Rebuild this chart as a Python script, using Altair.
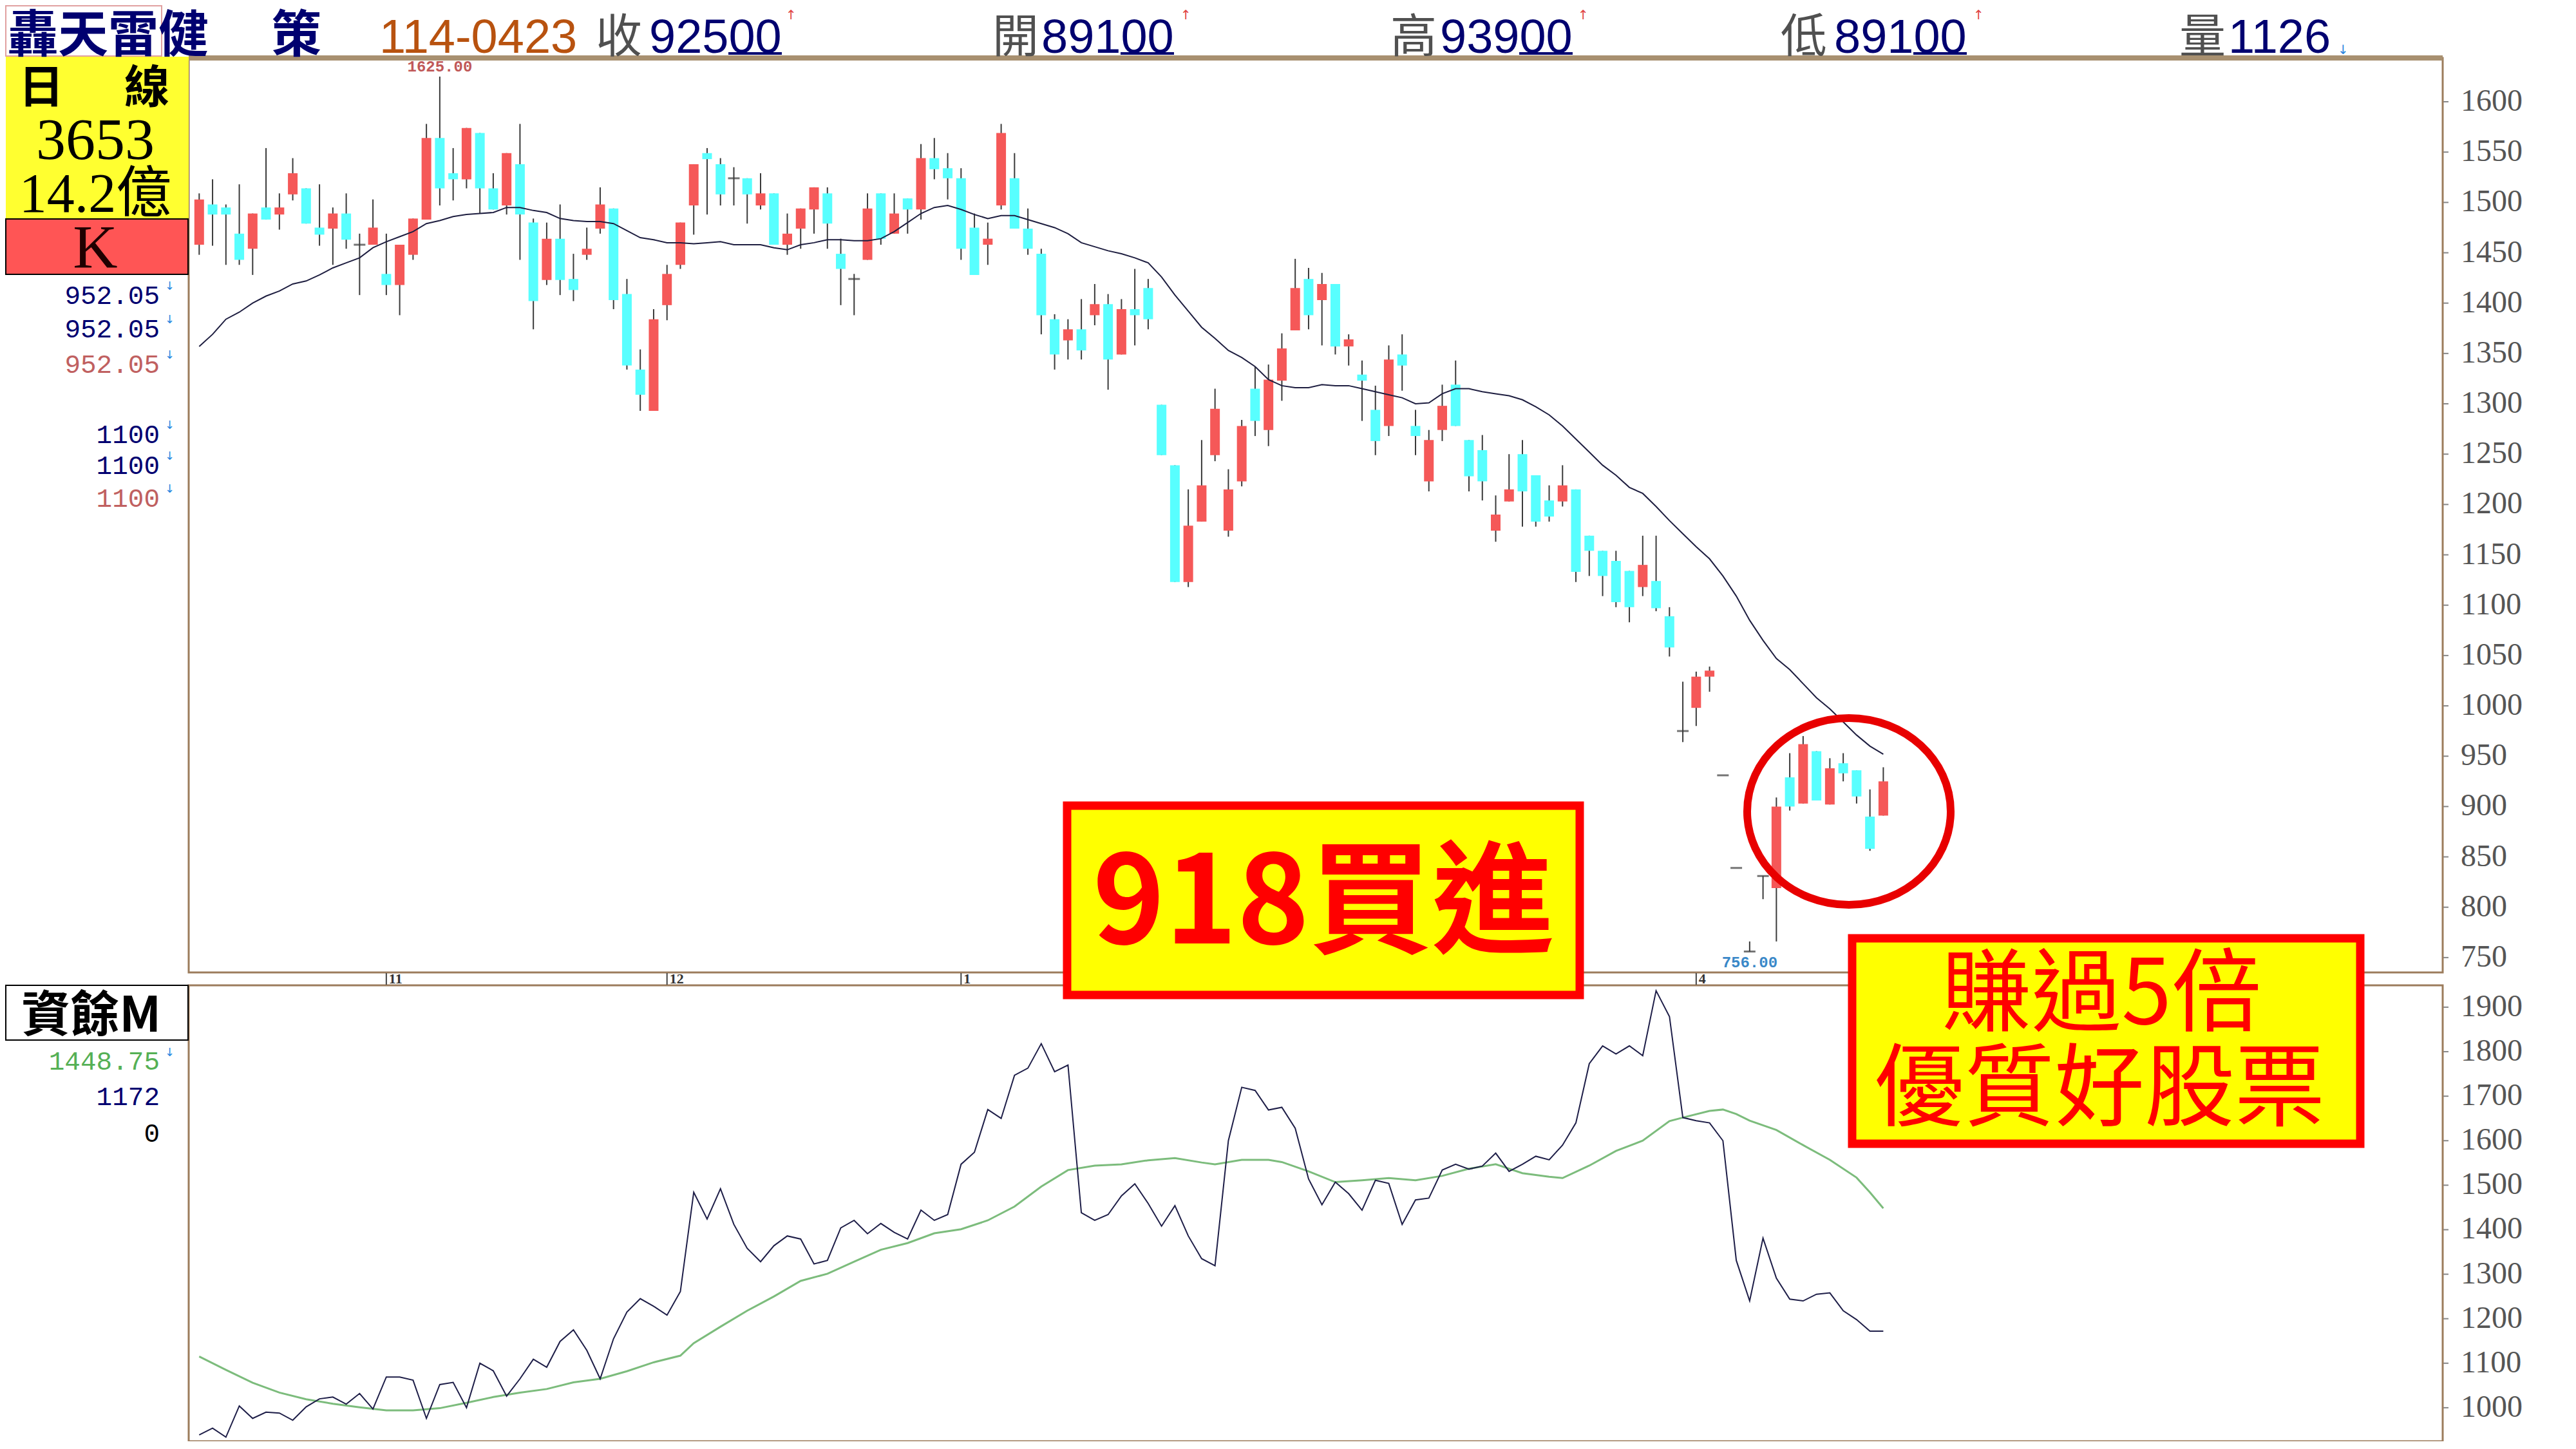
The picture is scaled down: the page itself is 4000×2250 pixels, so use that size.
import altair as alt
import pandas as pd

# ---------------- data ----------------
opens = [1458,1498,1495,1469,1454,1495,1488,1508,1514,1475,1474,1489,1458,1458,1429,1418,1448,1483,1564,1529,
         1523,1569,1514,1497,1538,1480,1423,1464,1424,1448,1474,1494,1409,1334,1293,1398,1438,1497,1549,1538,
         1524,1524,1497,1509,1458,1474,1493,1509,1449,1424,1443,1509,1469,1504,1493,1544,1534,1524,1475,1458,
         1497,1524,1474,1449,1384,1363,1374,1388,1399,1349,1394,1415,1299,1239,1123,1183,1249,1174,1223,1315,
         1274,1323,1373,1424,1403,1419,1357,1329,1294,1278,1349,1278,1223,1274,1319,1264,1254,1174,1203,1250,
         1229,1204,1203,1215,1169,1154,1144,1134,1118,1124,1089,975,998,1029,931,839,756,831,819,929,
         903,955,902,943,936,890,891]
highs = [1509,1523,1498,1518,1489,1554,1509,1544,1514,1518,1495,1509,1469,1503,1469,1458,1484,1578,1625,1554,
         1574,1569,1529,1549,1578,1484,1480,1498,1449,1475,1515,1494,1424,1354,1394,1438,1480,1538,1554,1544,
         1535,1524,1529,1509,1489,1494,1515,1515,1464,1429,1509,1509,1509,1504,1558,1564,1549,1534,1489,1480,
         1578,1549,1494,1454,1389,1384,1404,1419,1409,1404,1434,1424,1299,1239,1215,1264,1315,1235,1284,1337,
         1339,1370,1444,1435,1430,1419,1369,1343,1318,1358,1369,1294,1274,1319,1343,1264,1269,1209,1250,1264,
         1229,1219,1239,1215,1169,1154,1154,1134,1169,1169,1098,1024,1034,1039,931,839,766,831,909,953,
         970,955,948,953,936,917,939]
lows = [1448,1457,1438,1438,1428,1483,1473,1502,1479,1457,1438,1454,1408,1458,1408,1388,1443,1483,1497,1502,
        1514,1489,1493,1488,1443,1374,1418,1408,1402,1443,1469,1394,1334,1293,1293,1383,1434,1468,1488,1497,
        1497,1479,1493,1458,1448,1454,1469,1454,1398,1388,1443,1458,1469,1469,1483,1523,1503,1443,1428,1438,
        1493,1474,1448,1369,1334,1344,1344,1378,1314,1349,1358,1374,1249,1123,1118,1183,1243,1168,1218,1268,
        1258,1303,1373,1374,1358,1349,1338,1283,1249,1268,1313,1249,1213,1263,1278,1213,1204,1163,1203,1178,
        1178,1183,1198,1123,1129,1109,1098,1083,1109,1094,1049,964,980,1014,931,839,756,808,766,896,
        903,906,902,925,903,856,891]
closes = [1503,1488,1488,1443,1489,1483,1495,1529,1479,1468,1489,1463,1458,1475,1418,1458,1484,1564,1514,1523,
          1574,1514,1493,1549,1488,1402,1464,1423,1413,1454,1498,1403,1338,1309,1384,1429,1480,1538,1543,1508,
          1524,1508,1509,1458,1469,1494,1515,1479,1434,1424,1494,1464,1489,1493,1544,1533,1524,1454,1428,1464,
          1569,1474,1454,1388,1349,1374,1353,1399,1344,1394,1388,1384,1249,1123,1179,1219,1295,1215,1278,1283,
          1324,1355,1415,1388,1419,1357,1364,1323,1263,1344,1338,1268,1264,1298,1278,1228,1223,1190,1215,1213,
          1183,1188,1219,1133,1154,1129,1103,1098,1140,1097,1058,975,1029,1035,931,839,756,831,900,900,
          962,906,938,933,910,858,925]
ma_line = [1357,1369,1384,1391,1400,1407,1412,1419,1422,1428,1435,1440,1445,1455,1461,1466,1471,1479,1482,1486,
           1488,1489,1490,1495,1495,1492,1490,1484,1482,1481,1481,1479,1472,1465,1463,1460,1460,1459,1460,1461,
           1458,1458,1458,1455,1453,1458,1460,1463,1463,1462,1462,1464,1471,1480,1489,1495,1497,1493,1488,1484,
           1487,1487,1483,1479,1475,1469,1460,1456,1452,1449,1445,1440,1426,1408,1392,1376,1365,1353,1346,1337,
           1324,1318,1316,1316,1319,1318,1318,1315,1312,1309,1306,1300,1301,1310,1315,1315,1312,1310,1308,1304,
           1297,1289,1278,1265,1252,1239,1229,1217,1211,1198,1184,1171,1158,1146,1129,1109,1085,1065,1047,1036,
           1022,1008,997,984,971,960,952]
margin_bal = [939,954,934,1004,976,990,988,972,1002,1020,1024,1008,1032,997,1069,1069,1062,976,1052,1057,
              1000,1100,1083,1026,1065,1109,1091,1149,1175,1129,1065,1155,1215,1245,1228,1208,1261,1484,1424,1492,
              1412,1358,1328,1364,1386,1379,1323,1331,1404,1421,1391,1414,1394,1379,1444,1421,1434,1547,1574,1670,
              1650,1747,1763,1818,1755,1770,1438,1421,1434,1476,1503,1459,1408,1454,1386,1335,1319,1600,1720,1713,
              1669,1675,1628,1514,1456,1507,1481,1444,1511,1504,1412,1467,1471,1534,1547,1536,1543,1572,1531,1547,
              1565,1557,1590,1640,1773,1813,1795,1813,1791,1937,1879,1652,1645,1640,1600,1331,1240,1381,1291,1244,
              1240,1255,1258,1218,1198,1172,1172]
margin_ma_idx = [0,2,4,6,8,10,12,14,16,18,20,22,24,26,28,30,32,34,36,37,39,41,43,45,47,49,51,53,55,57,59,61,63,65,
                 67,69,71,73,75,76,78,80,81,83,85,87,89,91,93,95,97,99,101,102,104,106,108,110,111,113,114,115,116,
                 118,120,122,124,125,126]
margin_ma = [1115,1085,1056,1034,1019,1009,1001,994,994,999,1011,1024,1034,1042,1057,1065,1082,1102,1117,1145,
             1182,1218,1250,1285,1301,1328,1355,1370,1392,1401,1421,1452,1497,1534,1544,1547,1556,1561,1551,1547,
             1557,1557,1552,1531,1507,1511,1516,1511,1521,1537,1547,1527,1519,1516,1544,1577,1600,1644,1652,1667,
             1670,1660,1645,1624,1590,1557,1517,1484,1448]
price_ticks = list(range(750, 1601, 50))
margin_ticks = list(range(1000, 1901, 100))
month_labels = ["11", "12", "1", "4"]
month_start = [14, 35, 57, 112]

# ---------------- tables ----------------
idx = list(range(len(opens)))
candles = pd.DataFrame({"i": idx, "open": opens, "high": highs, "low": lows, "close": closes})
ma_df = pd.DataFrame({"i": idx, "v": ma_line})
bal_df = pd.DataFrame({"i": idx, "v": margin_bal})
bal_ma_df = pd.DataFrame({"i": margin_ma_idx, "v": margin_ma})
pt_df = pd.DataFrame({"v": price_ticks, "label": [str(t) for t in price_ticks]})
mt_df = pd.DataFrame({"v": margin_ticks, "label": [str(t) for t in margin_ticks]})
month_df = pd.DataFrame({"m": month_start, "label": month_labels})
ONE = pd.DataFrame({"k": [0]})

O = 8  # page margin; reference pixel -> chart pixel
XS = alt.Scale(domain=[0, 126], range=[304.3 - O, 2929.4 - O], nice=False, zero=False)
YU = alt.Scale(domain=[736.5, 1643.5], range=[1508 - O, 90 - O], nice=False, zero=False)
YL = alt.Scale(domain=[914.5, 1952], range=[2245 - O, 1528 - O], nice=False, zero=False)

CJK = "Noto Sans CJK TC"
SERIF = "Liberation Serif"
MONO = "Liberation Mono"
SANS = "Liberation Sans"
RED = "#f55858"
CYAN = "#58ffff"
BROWN = "#9c7c5c"
NAVY = "#000070"


def T(s, x, y, size, color, font=CJK, weight="normal", align="left", baseline="alphabetic"):
    return alt.Chart(ONE).mark_text(text=s, fontSize=size, color=color, font=font, fontWeight=weight,
                                    align=align, baseline=baseline).encode(
        x=alt.value(x - O), y=alt.value(y - O))


def R(x1, y1, x2, y2, fill=None, stroke=None, sw=0):
    kw = {}
    if fill:
        kw["fill"] = fill
    else:
        kw["fillOpacity"] = 0
    if stroke:
        kw["stroke"] = stroke
        kw["strokeWidth"] = sw
    return alt.Chart(ONE).mark_rect(**kw).encode(
        x=alt.value(x1 - O), x2=alt.value(x2 - O), y=alt.value(y1 - O), y2=alt.value(y2 - O))


X = alt.X("i:Q", scale=XS, axis=None)
layers = []

# frames
layers.append(R(293, 90, 3793, 1510, stroke=BROWN, sw=3))
layers.append(R(293, 1530, 3793, 2238, stroke=BROWN, sw=3))
layers.append(R(293, 86, 3793, 94, fill="#a89070"))

# candles
cb = alt.Chart(candles)
layers.append(cb.mark_rule(color="#3a3a3a", strokeWidth=2).encode(
    x=X, y=alt.Y("low:Q", scale=YU, axis=None), y2="high:Q"))
layers.append(cb.transform_filter("datum.open != datum.close").mark_bar(size=15).encode(
    x=X, y=alt.Y("open:Q", scale=YU, axis=None), y2="close:Q",
    color=alt.condition(alt.datum.close > alt.datum.open, alt.value(RED), alt.value(CYAN))))
layers.append(cb.transform_filter("datum.open == datum.close").mark_tick(
    orient="horizontal", size=18, thickness=3, color="#3a3a3a").encode(
    x=X, y=alt.Y("close:Q", scale=YU, axis=None)))
layers.append(alt.Chart(ma_df).mark_line(color="#1e1e40", strokeWidth=2).encode(
    x=X, y=alt.Y("v:Q", scale=YU, axis=None)))

# high / low labels
layers.append(alt.Chart(candles).transform_filter("datum.i == 18").mark_text(
    text="1625.00", font=MONO, fontWeight="bold", fontSize=24, color="#c05858", baseline="bottom", dy=-3).encode(
    x=X, y=alt.Y("high:Q", scale=YU, axis=None)))
layers.append(alt.Chart(candles).transform_filter("datum.i == 116").mark_text(
    text="756.00", font=MONO, fontWeight="bold", fontSize=24, color="#3a88c8", baseline="top", dy=5).encode(
    x=X, y=alt.Y("low:Q", scale=YU, axis=None)))

# lower panel lines
layers.append(alt.Chart(bal_ma_df).mark_line(color="#7cbc7c", strokeWidth=3).encode(
    x=X, y=alt.Y("v:Q", scale=YL, axis=None)))
layers.append(alt.Chart(bal_df).mark_line(color="#1e1e48", strokeWidth=2).encode(
    x=X, y=alt.Y("v:Q", scale=YL, axis=None)))

# right-hand labels and ticks
for df, sc in ((pt_df, YU), (mt_df, YL)):
    layers.append(alt.Chart(df).mark_rule(color="#888888", strokeWidth=2).encode(
        x=alt.value(3794 - O), x2=alt.value(3802 - O), y=alt.Y("v:Q", scale=sc, axis=None)))
    layers.append(alt.Chart(df).mark_text(align="left", baseline="middle", font=SERIF, fontSize=48,
                                          color="#555555").encode(
        x=alt.value(3821 - O), y=alt.Y("v:Q", scale=sc, axis=None), text="label:N"))

# month strip
layers.append(alt.Chart(month_df).mark_rule(color="#444444", strokeWidth=2).encode(
    x=alt.X("m:Q", scale=XS, axis=None), y=alt.value(1511 - O), y2=alt.value(1529 - O)))
layers.append(alt.Chart(month_df).mark_text(align="left", baseline="alphabetic", font=SERIF, fontSize=22,
                                            fontWeight="bold", color="#333333", dx=4).encode(
    x=alt.X("m:Q", scale=XS, axis=None), y=alt.value(1527 - O), text="label:N"))

# left information panel
layers.append(R(9, 88, 293, 340, fill="#ffff30"))
layers.append(R(9, 340, 292, 426, fill="#ff5555", stroke="#000000", sw=2))
layers.append(T("日", 64, 160, 70, "#000000", weight="bold", align="center"))
layers.append(T("線", 228, 160, 70, "#000000", weight="bold", align="center"))
layers.append(T("3653", 148, 247, 92, "#000000", font=SERIF, align="center"))
layers.append(T("14.2億", 148, 329, 86, "#000000", font=SERIF + ", " + CJK, align="center"))
layers.append(T("K", 148, 416, 96, "#200000", font=SERIF, align="center"))
for y, c in ((472, NAVY), (524, NAVY), (579, "#c06060")):
    layers.append(T("952.05", 248, y, 41, c, font=MONO, align="right"))
    layers.append(T("↓", 256, y - 22, 18, "#2a86e0", font="DejaVu Sans"))
for y, c in ((688, NAVY), (736, NAVY), (787, "#c06060")):
    layers.append(T("1100", 248, y, 41, c, font=MONO, align="right"))
    layers.append(T("↓", 256, y - 22, 18, "#2a86e0", font="DejaVu Sans"))
layers.append(R(9, 1530, 292, 1615, fill="#ffffff", stroke="#000000", sw=2))
layers.append(T("資餘M", 250, 1602, 76, "#000000", weight="bold", align="right"))
layers.append(T("1448.75", 248, 1661, 41, "#55b055", font=MONO, align="right"))
layers.append(T("↓", 256, 1640, 18, "#2a86e0", font="DejaVu Sans"))
layers.append(T("1172", 248, 1716, 41, NAVY, font=MONO, align="right"))
layers.append(T("0", 248, 1773, 41, "#000000", font=MONO, align="right"))

# header
layers.append(R(9, 9, 251, 87, stroke="#e0a0a0", sw=2))
layers.append(T("轟天雷健", 12, 81, 78, NAVY, weight="bold"))
layers.append(T("策", 421, 81, 78, NAVY, weight="bold"))
layers.append(T("114-0423", 589, 82, 74, "#b8520f", font=SANS))
for lab, xl, num, xn, ul, xa in (("收", 925, "92500", 1008, (1131, 1214), 1220),
                                 ("開", 1541, "89100", 1617, (1740, 1823), 1833),
                                 ("高", 2159, "93900", 2236, (2359, 2442), 2450),
                                 ("低", 2765, "89100", 2848, (2971, 3054), 3064)):
    layers.append(T(lab, xl, 81, 72, "#505050"))
    layers.append(T(num, xn, 82, 74, NAVY, font=SANS))
    layers.append(R(ul[0], 81, ul[1], 85, fill=NAVY))
    layers.append(T("↑", xa, 30, 20, "#e04040", font="DejaVu Sans"))
layers.append(T("量", 3384, 81, 72, "#505050"))
layers.append(T("1126", 3460, 82, 74, NAVY, font=SANS))
layers.append(T("↓", 3630, 84, 20, "#2a86e0", font="DejaVu Sans"))

# annotations
layers.append(R(1657, 1251, 2453, 1545, fill="#ffff00", stroke="#ff0000", sw=13))
layers.append(T("918買進", 2055, 1465, 190, "#ff0000", weight="bold", align="center"))
layers.append(R(2876, 1457, 3665, 1776, fill="#ffff00", stroke="#ff0000", sw=13))
layers.append(T("賺過5倍", 3263, 1590, 140, "#ff0000", align="center"))
layers.append(T("優質好股票", 3260, 1737, 140, "#ff0000", align="center"))
ellipse = "M -1 0 A 1 0.918 0 1 0 1 0 A 1 0.918 0 1 0 -1 0"
layers.append(alt.Chart(ONE).mark_point(shape=ellipse, size=316 * 316, filled=False, strokeWidth=12,
                                        color="#e80000", opacity=1).encode(
    x=alt.value(2871 - O), y=alt.value(1260 - O)))

chart = alt.layer(*layers).resolve_scale(y="independent").properties(
    width=3980, height=2230, autosize=alt.AutoSizeParams(type="none"),
    padding={"left": 0, "top": 0, "right": 0, "bottom": 0},
    background="#ffffff").configure_view(stroke="transparent")

chart.save("out.html", embed_options={"renderer": "svg", "actions": False})
